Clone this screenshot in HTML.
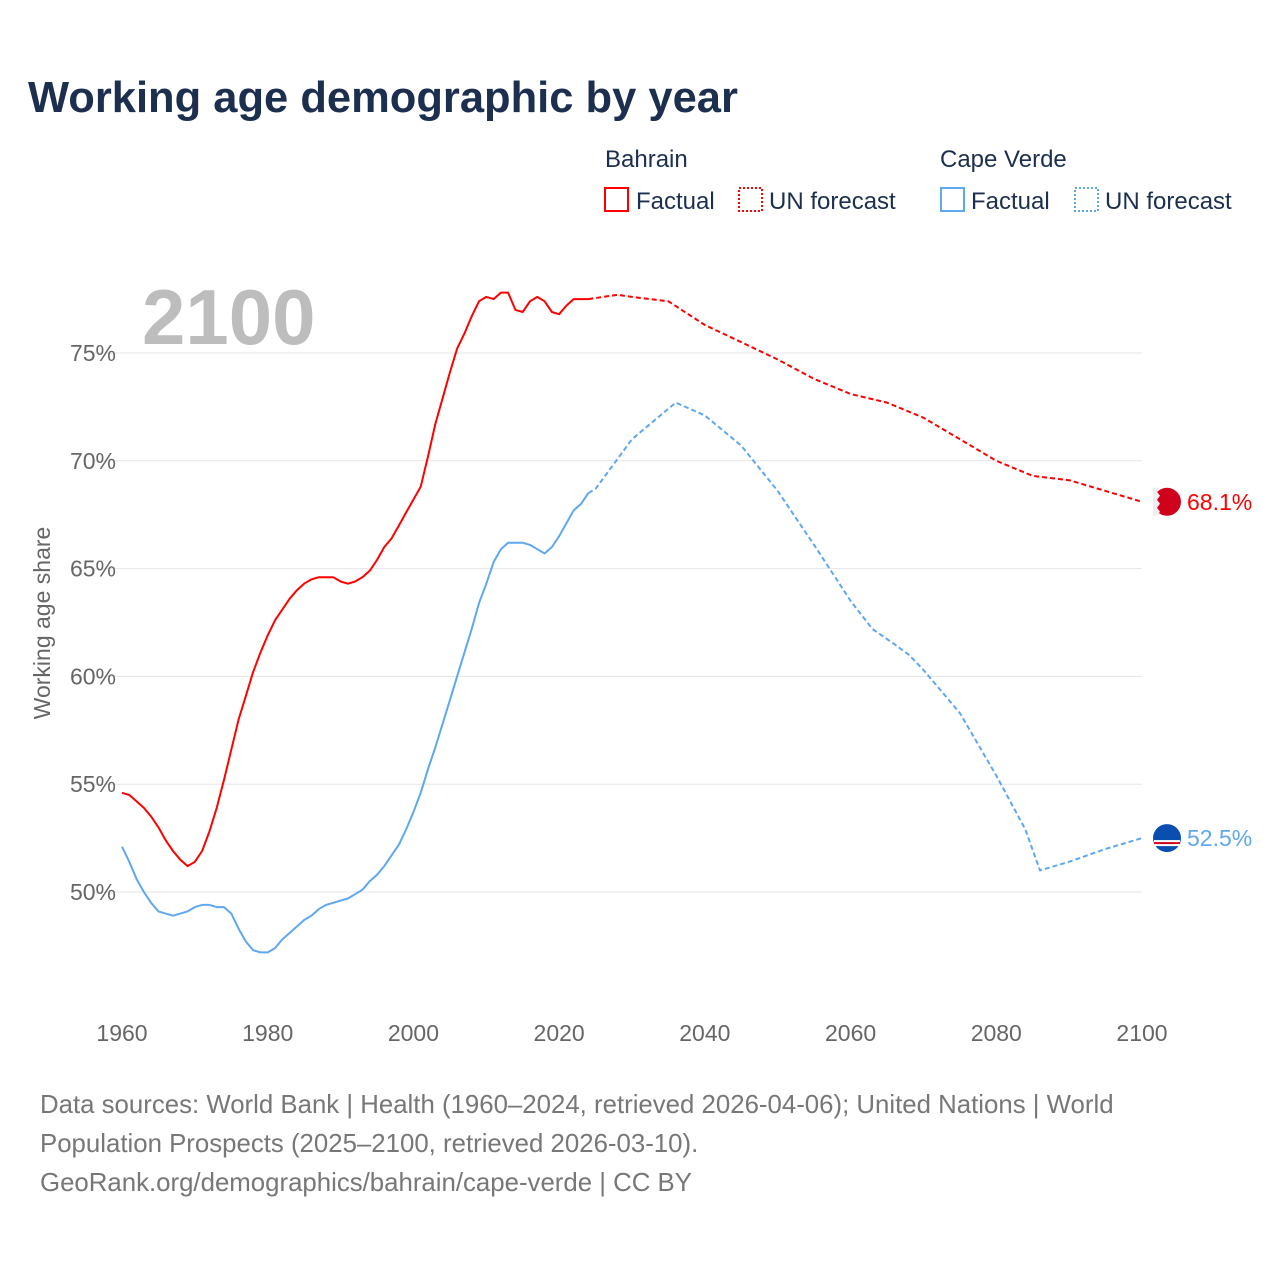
<!DOCTYPE html>
<html><head><meta charset="utf-8">
<style>
body{margin:0;background:#fff;font-family:"Liberation Sans",sans-serif;}
#wrap{position:relative;width:1280px;height:1280px;}
</style></head>
<body>
<div id="wrap">
<svg id="chart" width="1280" height="1280" font-family="Liberation Sans, sans-serif">
<text x="28" y="112" font-size="43.5" font-weight="bold" fill="#1c2f4f">Working age demographic by year</text>
<g font-size="24" fill="#1c2f4f">
<text x="605" y="167">Bahrain</text>
<rect x="605" y="188" width="23" height="23" fill="none" stroke="#f00" stroke-width="2"/>
<text x="636" y="209">Factual</text>
<rect x="739" y="188" width="23" height="23" fill="none" stroke="#f00" stroke-width="2" stroke-dasharray="2,2"/>
<text x="769" y="209">UN forecast</text>
<text x="940" y="167">Cape Verde</text>
<rect x="941" y="188" width="23" height="23" fill="none" stroke="#5ea8f0" stroke-width="2"/>
<text x="971" y="209">Factual</text>
<rect x="1075" y="188" width="23" height="23" fill="none" stroke="#5ea8f0" stroke-width="2" stroke-dasharray="2,2"/>
<text x="1105" y="209">UN forecast</text>
</g>
<text x="142" y="344" font-size="78" font-weight="bold" fill="#bdbdbd">2100</text>
<text transform="translate(50,623) rotate(-90)" text-anchor="middle" font-size="23" fill="#666">Working age share</text>
<g id="grid"></g><g id="lines"></g><g id="marks"></g>
<g font-size="25.8" fill="#777">
<text x="40" y="1113">Data sources: World Bank | Health (1960–2024, retrieved 2026-04-06); United Nations | World</text>
<text x="40" y="1152">Population Prospects (2025–2100, retrieved 2026-03-10).</text>
<text x="40" y="1191">GeoRank.org/demographics/bahrain/cape-verde | CC BY</text>
</g>
</svg>
</div>
<script>
const yTicks=[50,55,60,65,70,75];
const xTicks=[1960,1980,2000,2020,2040,2060,2080,2100];
const bhFactYears=[];for(let y=1960;y<=2024;y++)bhFactYears.push(y);
const bhFact=[54.6,54.5,54.2,53.9,53.5,53.0,52.4,51.9,51.5,51.2,51.4,51.9,52.8,53.9,55.2,56.6,58.0,59.1,60.2,61.1,61.9,62.6,63.1,63.6,64.0,64.3,64.5,64.6,64.6,64.6,64.4,64.3,64.4,64.6,64.9,65.4,66.0,66.4,67.0,67.6,68.2,68.8,70.2,71.7,72.9,74.1,75.2,75.9,76.7,77.4,77.6,77.5,77.8,77.8,77.0,76.9,77.4,77.6,77.4,76.9,76.8,77.2,77.5,77.5,77.5];
const bhFcYears=[2024,2028,2030,2035,2040,2045,2050,2055,2060,2065,2070,2075,2080,2085,2090,2095,2100];
const bhFc=[77.5,77.7,77.6,77.4,76.3,75.5,74.7,73.8,73.1,72.7,72.0,71.0,70.0,69.3,69.1,68.6,68.1];
const cvFact=[52.1,51.4,50.6,50.0,49.5,49.1,49.0,48.9,49.0,49.1,49.3,49.4,49.4,49.3,49.3,49.0,48.3,47.7,47.3,47.2,47.2,47.4,47.8,48.1,48.4,48.7,48.9,49.2,49.4,49.5,49.6,49.7,49.9,50.1,50.5,50.8,51.2,51.7,52.2,52.9,53.7,54.6,55.7,56.7,57.8,58.9,60.0,61.1,62.2,63.4,64.3,65.3,65.9,66.2,66.2,66.2,66.1,65.9,65.7,66.0,66.5,67.1,67.7,68.0,68.5];
const cvFcYears=[2024,2025,2030,2036,2040,2045,2050,2055,2060,2063,2066,2068,2070,2075,2080,2084,2086,2090,2095,2100];
const cvFc=[68.5,68.7,71.0,72.7,72.1,70.7,68.6,66.1,63.5,62.2,61.5,61.0,60.3,58.3,55.4,52.9,51.0,51.4,52.0,52.5];
const X=y=>122+(y-1960)*(1020/140);
const Y=v=>892-(v-50)*21.56;
const NS="http://www.w3.org/2000/svg";
function mk(tag,attrs,parent){const e=document.createElementNS(NS,tag);for(const k in attrs)e.setAttribute(k,attrs[k]);parent.appendChild(e);return e;}
const grid=document.getElementById('grid');
yTicks.forEach(t=>{
 const l=mk('line',{x1:95,x2:1142,y1:Y(t),y2:Y(t),stroke:'#e6e6e6','stroke-width':1},grid);
 
 
 const tx=mk('text',{x:116,y:Y(t)+8,'text-anchor':'end','font-size':23,fill:'#666'},grid);
 tx.textContent=t+'%';
 
 
});
xTicks.forEach(t=>{
 const tx=mk('text',{x:X(t),y:1041,'text-anchor':'middle','font-size':23,fill:'#666'},grid);
 tx.textContent=t;
 
 
});
const lines=document.getElementById('lines');
function path(xs,vs,color,dash,name){
 const d=xs.map((x,i)=>(i?'L':'M')+X(x).toFixed(1)+','+Y(vs[i]).toFixed(1)).join('');
 const p=mk('path',{d:d,fill:'none',stroke:color,'stroke-width':2,'stroke-linejoin':'round'},lines);
 if(dash)p.setAttribute('stroke-dasharray','5,3');
 
 
}
path(bhFactYears,bhFact,'#f00',false,'bahrain-factual-line');
path(bhFcYears,bhFc,'#f00',true,'bahrain-forecast-line');
path(bhFactYears,cvFact,'#5ea8f0',false,'capeverde-factual-line');
path(cvFcYears,cvFc,'#5ea8f0',true,'capeverde-forecast-line');
const marks=document.getElementById('marks');
function endMark(v,color,fill,name,label){
 const cx=1167,cy=Y(v);
 const c=mk('circle',{cx:cx,cy:cy,r:14,fill:fill},marks);
 
 
 const t=mk('text',{x:1187,y:cy+8,'font-size':23,fill:color},marks);
 t.textContent=label;
 
 
 return cy;
}
const by=endMark(bhFc[bhFc.length-1],'#f00','#d0021b','bahrain',bhFc[bhFc.length-1].toFixed(1)+'%');
mk('path',{d:`M1153,${by-14}L1160,${by-14}L1157,${by-10}L1160,${by-6}L1157,${by-2}L1160,${by+2}L1157,${by+6}L1160,${by+10}L1157,${by+14}L1153,${by+14}Z`,fill:'#eee'},marks);
const cy2=endMark(cvFc[cvFc.length-1],'#5ea8f0','#0a4fb0','capeverde',cvFc[cvFc.length-1].toFixed(1)+'%');
mk('rect',{x:1154,y:cy2+2,width:26,height:6,fill:'#fff'},marks);
mk('rect',{x:1154,y:cy2+4,width:26,height:2,fill:'#d0021b'},marks);
</script>
</body></html>
